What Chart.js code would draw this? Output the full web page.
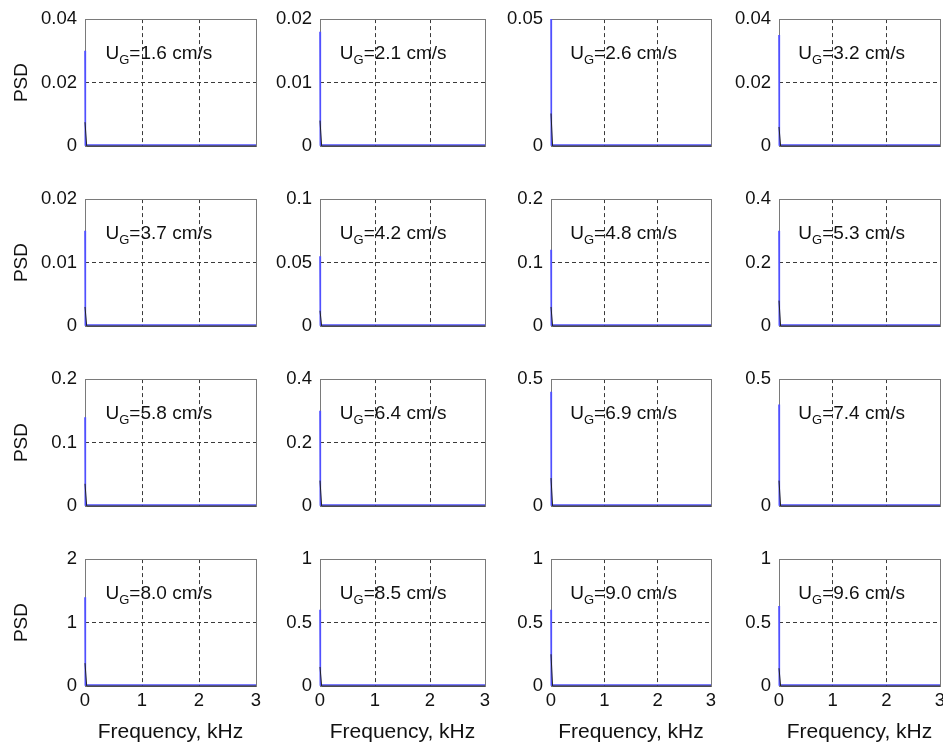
<!DOCTYPE html>
<html>
<head>
<meta charset="utf-8">
<script src="https://cdn.jsdelivr.net/npm/chart.js@4.4.1/dist/chart.umd.min.js"></script>
<style>
  html, body { margin: 0; padding: 0; background: #fff; }
  #wrap { position: relative; width: 943px; height: 746px; overflow: hidden; }
  .panel { position: absolute; }
</style>
</head>
<body>
<div id="wrap"></div>
<script>
// gas velocity label of each panel (row by row)
const speeds = ['1.6', '2.1', '2.6', '3.2', '3.7', '4.2', '4.8', '5.3',
                '5.8', '6.4', '6.9', '7.4', '8.0', '8.5', '9.0', '9.6'];
const yMax = [0.04, 0.02, 0.05, 0.04, 0.02, 0.1, 0.2, 0.4,
              0.2, 0.4, 0.5, 0.5, 2, 1, 1, 1];
const yTicks = [[0, 0.02, 0.04], [0, 0.01, 0.02], [0, 0.05], [0, 0.02, 0.04],
                [0, 0.01, 0.02], [0, 0.05, 0.1], [0, 0.1, 0.2], [0, 0.2, 0.4],
                [0, 0.1, 0.2], [0, 0.2, 0.4], [0, 0.5], [0, 0.5],
                [0, 1, 2], [0, 0.5, 1], [0, 0.5, 1], [0, 0.5, 1]];
const xTicks = [0, 1, 2, 3];

// blue PSD: spike at 0 kHz, then flat floor
const freqBlue = [0, 0.006, 3];
const peakBlue = [0.030, 0.018, 0.06, 0.035, 0.015, 0.055, 0.12, 0.30,
                  0.14, 0.30, 0.45, 0.40, 1.4, 0.6, 0.6, 0.63];
const floorBlue = [0.0003, 0.00015, 0.0004, 0.0003, 0.00015, 0.0008, 0.0015, 0.003,
                   0.0015, 0.003, 0.004, 0.004, 0.015, 0.008, 0.008, 0.008];
// dark short segment near 0 kHz
const freqDark = [0, 0.03, 3];
const startDark = [0.0075, 0.004, 0.0128, 0.006, 0.003, 0.012, 0.03, 0.08,
                   0.035, 0.08, 0.11, 0.10, 0.36, 0.15, 0.25, 0.14];

// panel plot areas (pixels)
const colLeft = [85, 320, 551, 779];
const colRight = [256, 485, 711, 940];
const rowTop = [17, 197, 377, 557];
const rowBottom = [146, 326, 506, 686];

const FONT = 'Liberation Sans, Arial, Helvetica, sans-serif';
const PADL = 85, PADT = 17, PADR = 12;

const framePlugin = {
  id: 'frame',
  beforeDatasetsDraw(chart) {
    const a = chart.chartArea, ctx = chart.ctx;
    ctx.save();
    ctx.strokeStyle = '#7a7a7a';
    ctx.lineWidth = 1;
    ctx.strokeRect(Math.round(a.left) + 0.5, Math.round(a.top) + 0.5,
                   Math.round(a.right - a.left), Math.round(a.bottom - a.top));
    // velocity label
    const lab = chart.options.plugins.frame.label;
    let x = a.left + (a.right - a.left) * 0.12;
    const y = a.top + (a.bottom - a.top) * 0.27;
    ctx.fillStyle = '#111';
    ctx.textBaseline = 'middle';
    ctx.font = '19px ' + FONT;
    ctx.fillText('U', x, y);
    x += ctx.measureText('U').width;
    ctx.font = '13px ' + FONT;
    ctx.fillText('G', x, y + 7);
    x += ctx.measureText('G').width;
    ctx.font = '19px ' + FONT;
    ctx.fillText('=' + lab + ' cm/s', x, y);
    ctx.restore();
  }
};

const wrap = document.getElementById('wrap');
for (let r = 0; r < 4; r++) {
  for (let c = 0; c < 4; c++) {
    const i = r * 4 + c;
    const bottomRow = r === 3;
    const firstCol = c === 0;
    const w = colRight[c] - colLeft[c];
    const h = rowBottom[r] - rowTop[r];
    const extraB = bottomRow ? 60 : 26;
    const div = document.createElement('div');
    div.className = 'panel';
    div.style.left = (colLeft[c] - PADL) + 'px';
    div.style.top = (rowTop[r] - PADT) + 'px';
    div.style.width = (w + PADL + PADR) + 'px';
    div.style.height = (h + PADT + extraB) + 'px';
    const cv = document.createElement('canvas');
    div.appendChild(cv);
    wrap.appendChild(div);

    const ticksY = yTicks[i];
    const top = yMax[i];
    new Chart(cv, {
      type: 'line',
      data: {
        datasets: [
          {
            data: freqDark.map((f, k) => ({ x: f, y: k === 0 ? startDark[i] : 0 })),
            borderColor: '#222',
            borderWidth: 1,
            pointRadius: 0,
            tension: 0,
            clip: { left: 3, top: 0, right: 0, bottom: 3 }
          },
          {
            data: freqBlue.map((f, k) => ({ x: f, y: k === 0 ? peakBlue[i] : floorBlue[i] })),
            borderColor: 'rgb(80,80,255)',
            borderWidth: 1.6,
            pointRadius: 0,
            tension: 0,
            clip: { left: 3, top: 0, right: 0, bottom: 3 }
          }
        ]
      },
      plugins: [framePlugin],
      options: {
        responsive: true,
        maintainAspectRatio: false,
        animation: false,
        events: [],
        layout: { padding: { top: PADT, right: PADR, left: 0, bottom: 0 } },
        plugins: {
          legend: { display: false },
          tooltip: { enabled: false },
          frame: { label: speeds[i] }
        },
        scales: {
          x: {
            type: 'linear',
            min: 0,
            max: 3,
            afterBuildTicks: s => { s.ticks = xTicks.map(v => ({ value: v })); },
            afterFit: s => { s.height = extraB; },
            border: { display: false, dash: [4, 3] },
            grid: {
              drawTicks: false,
              color: ctx => (ctx.tick && ctx.tick.value > 0 && ctx.tick.value < 3) ? '#3a3a3a' : 'rgba(0,0,0,0)'
            },
            ticks: {
              display: bottomRow,
              padding: 4,
              color: '#111',
              font: { family: FONT, size: 18.5 },
              maxRotation: 0
            },
            title: {
              display: bottomRow,
              text: 'Frequency, kHz',
              color: '#111',
              font: { family: FONT, size: 21 },
              padding: { top: 0, bottom: 1 }
            }
          },
          y: {
            min: 0,
            max: top,
            afterBuildTicks: s => { s.ticks = ticksY.map(v => ({ value: v })); },
            afterFit: s => { s.width = PADL; },
            border: { display: false, dash: [4, 3] },
            grid: {
              drawTicks: false,
              color: ctx => (ctx.tick && ctx.tick.value > 0 && ctx.tick.value < top) ? '#3a3a3a' : 'rgba(0,0,0,0)'
            },
            ticks: {
              padding: 8,
              color: '#111',
              font: { family: FONT, size: 18.5 },
              callback: v => String(v)
            },
            title: {
              display: firstCol,
              text: 'PSD',
              color: '#111',
              font: { family: FONT, size: 19 },
              padding: { top: 10, bottom: 0 }
            }
          }
        }
      }
    });
  }
}
</script>
</body>
</html>
